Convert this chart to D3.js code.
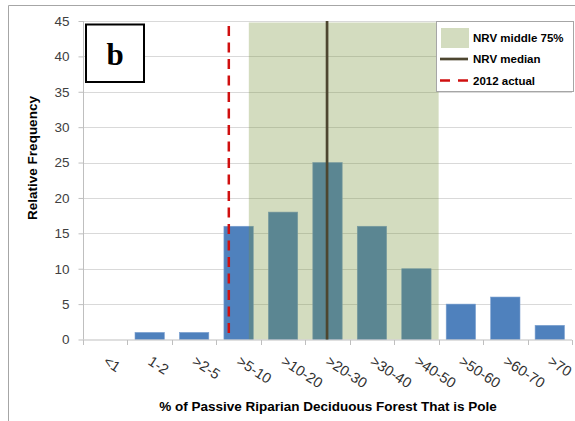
<!DOCTYPE html>
<html><head><meta charset="utf-8">
<script src="https://cdn.jsdelivr.net/npm/d3@7"></script>
<style>
html,body{margin:0;padding:0;background:#fff;}
svg{display:block;font-family:"Liberation Sans",Arial,sans-serif;}
</style></head>
<body>
<svg id="chart" width="575" height="421"></svg>
<script>
// ---- data ----
const categories = ["<1","1-2",">2-5",">5-10",">10-20",">20-30",">30-40",">40-50",">50-60",">60-70",">70"];
const frequency = [0,1,1,16,18,25,16,10,5,6,2];
const yTicks = [0,5,10,15,20,25,30,35,40,45];
// NRV reference values, in bin-index units (0 = left edge of "<1", 11 = right edge of ">70")
const nrvMiddle75 = [3.73, 8.0];
const nrvMedian = 5.49;
const actual2012 = 3.28;
const legendItems = ["NRV middle 75%","NRV median","2012 actual"];
const panelLabel = "b";
const xTitle = "% of Passive Riparian Deciduous Forest That is Pole";
const yTitle = "Relative Frequency";

(function(){
// ---- layout ----
const svg = d3.select("#chart");
const pL = 83, pR = 572, pT = 21, pB = 339.5;

const x = d3.scaleBand().domain(categories).range([pL, pR]).paddingInner(0.34).paddingOuter(0.17);
const xIdx = d3.scaleLinear().domain([0, categories.length]).range([pL, pR]);
const y = d3.scaleLinear().domain([0, 45]).range([pB, pT]);

// outer frame
svg.append("path").attr("d", `M8.5,421 L8.5,5.5 L575,5.5`).attr("fill","none").attr("stroke","#a6a6a6").attr("stroke-width",1);

// gridlines
svg.append("g").selectAll("line").data(yTicks.filter(d=>d>0)).join("line")
  .attr("x1", pL).attr("x2", pR)
  .attr("y1", d=>Math.round(y(d))+0.5).attr("y2", d=>Math.round(y(d))+0.5)
  .attr("stroke","#d9d9d9").attr("stroke-width",1);

// y axis
const yAxis = svg.append("g").attr("transform",`translate(${pL+0.5},0)`)
  .call(d3.axisLeft(y).tickValues(yTicks).tickSize(5).tickPadding(9));
yAxis.select(".domain").attr("stroke","#bfbfbf").attr("d",`M0,${pT}V${pB}`);
yAxis.selectAll(".tick line").attr("stroke","#bfbfbf");
yAxis.selectAll(".tick text").attr("font-size",13.5).attr("fill","#404040").attr("font-family","Liberation Sans, Arial, sans-serif");

// bars
svg.append("g").selectAll("rect").data(categories).join("rect")
  .attr("x", d=>x(d)).attr("width", x.bandwidth())
  .attr("y", (d,i)=>y(frequency[i])).attr("height", (d,i)=>y(0)-y(frequency[i]))
  .attr("fill","#4f81bd").attr("stroke","#7a9fcf").attr("stroke-width",0.6);

// NRV middle 75% band (translucent overlay)
svg.append("rect")
  .attr("x", xIdx(nrvMiddle75[0])).attr("width", xIdx(nrvMiddle75[1]) - xIdx(nrvMiddle75[0]))
  .attr("y", y(45)+1.5).attr("height", y(0)-y(45)-1.5)
  .attr("fill","rgb(118,146,55)").attr("fill-opacity",0.32);

// x axis
const xAxisG = svg.append("g").attr("transform",`translate(0,${pB+0.5})`);
xAxisG.append("line").attr("x1",pL).attr("x2",pR).attr("stroke","#bfbfbf");
const boundaries = d3.range(categories.length+1);
xAxisG.selectAll("line.tk").data(boundaries).join("line").attr("class","tk")
  .attr("x1", d=>Math.round(xIdx(d))+0.5).attr("x2", d=>Math.round(xIdx(d))+0.5)
  .attr("y1",0).attr("y2",5).attr("stroke","#bfbfbf");

// x tick labels, rotated
svg.append("g").selectAll("text").data(categories).join("text")
  .attr("transform", d=>`translate(${x(d)+x.bandwidth()/2},${pB+20}) rotate(33)`)
  .attr("text-anchor","start").attr("dy","0.35em")
  .attr("font-size",14.5).attr("fill","#303030")
  .text(d=>d);

// median line
svg.append("line").attr("x1", xIdx(nrvMedian)).attr("x2", xIdx(nrvMedian))
  .attr("y1", pT).attr("y2", pB).attr("stroke","#4d4630").attr("stroke-width",2.7);

// 2012 actual
svg.append("line").attr("x1", xIdx(actual2012)).attr("x2", xIdx(actual2012))
  .attr("y1", pT+5).attr("y2", pB).attr("stroke","#d01010").attr("stroke-width",2.5)
  .attr("stroke-dasharray","10,6.5");

// panel label box
svg.append("rect").attr("x",86).attr("y",24.5).attr("width",58).attr("height",57.5)
  .attr("fill","#fff").attr("stroke","#000").attr("stroke-width",2);
svg.append("text").attr("x",115).attr("y",65).attr("text-anchor","middle")
  .attr("font-family","Liberation Serif, Times New Roman, serif").attr("font-weight","bold")
  .attr("font-size",31).attr("fill","#000").text(panelLabel);

// legend
const lg = svg.append("g");
lg.append("rect").attr("x",436.5).attr("y",21.5).attr("width",137).attr("height",70)
  .attr("fill","#fff").attr("stroke","#a6a6a6");
lg.append("rect").attr("x",441).attr("y",28).attr("width",28).attr("height",20)
  .attr("fill","rgb(118,146,55)").attr("fill-opacity",0.32);
lg.append("line").attr("x1",440).attr("x2",468).attr("y1",59).attr("y2",59)
  .attr("stroke","#4d4630").attr("stroke-width",2.7);
lg.append("line").attr("x1",440).attr("x2",468).attr("y1",80.5).attr("y2",80.5)
  .attr("stroke","#d01010").attr("stroke-width",2.5).attr("stroke-dasharray","10,8");
lg.selectAll("text").data(legendItems).join("text")
  .attr("x",473).attr("y",(d,i)=>[42,63,84.5][i])
  .attr("font-size",11.5).attr("font-weight","bold").attr("fill","#000").text(d=>d);

// axis titles
svg.append("text").attr("x",328).attr("y",411).attr("text-anchor","middle")
  .attr("font-size",13.5).attr("font-weight","bold").attr("fill","#000").text(xTitle);
svg.append("text").attr("transform","translate(37,158) rotate(-90)").attr("text-anchor","middle")
  .attr("font-size",13.5).attr("font-weight","bold").attr("fill","#000").text(yTitle);
})();
</script>
</body></html>
